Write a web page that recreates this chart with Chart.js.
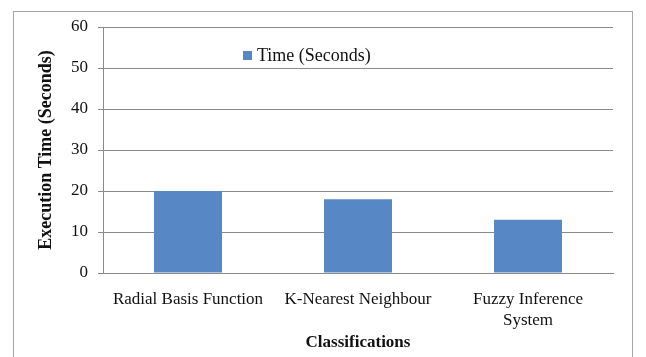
<!DOCTYPE html>
<html><head><meta charset="utf-8">
<script src="https://cdn.jsdelivr.net/npm/chart.js@4/dist/chart.umd.min.js"></script>
<style>
html,body{margin:0;padding:0;background:#fff;}
#wrap{position:relative;width:646px;height:357px;overflow:hidden;}
#frame{position:absolute;left:13px;top:11px;width:620px;height:400px;border:1px solid #a6a6a6;box-sizing:border-box;}
canvas{position:absolute;left:0;top:0;}
</style></head>
<body>
<div id="wrap"><div id="frame"></div><canvas id="c" width="646" height="357"></canvas></div>
<script>
const categories = [["Radial Basis Function"], ["K-Nearest Neighbour"], ["Fuzzy Inference", "System"]];
const seriesLabel = "Time (Seconds)";
const timeSeconds = [20, 18, 13];
const yTicks = [0, 10, 20, 30, 40, 50, 60];
const yTitle = "Execution Time (Seconds)";
const xTitle = "Classifications";

const barColor = "#5787c4";
const serif = "'Liberation Serif', 'Times New Roman', serif";

const insideLegend = {
  id: 'insideLegend',
  afterDraw(chart) {
    const ctx = chart.ctx, a = chart.chartArea;
    const ds = chart.data.datasets[0];
    const x = a.left + 140, y = a.top + 28;
    ctx.save();
    ctx.fillStyle = ds.backgroundColor;
    ctx.fillRect(x, y - 4, 9, 9);
    ctx.fillStyle = '#111';
    ctx.font = "18px " + serif;
    ctx.textBaseline = 'middle';
    ctx.textAlign = 'left';
    ctx.fillText(ds.label, x + 14, y + 1);
    ctx.restore();
  }
};

new Chart(document.getElementById('c'), {
  type: 'bar',
  data: {
    labels: categories,
    datasets: [{
      label: seriesLabel,
      data: timeSeconds,
      backgroundColor: barColor,
      borderWidth: 0,
      categoryPercentage: 0.4,
      barPercentage: 1.0
    }]
  },
  options: {
    responsive: false,
    animation: false,
    devicePixelRatio: 1,
    layout: { padding: { left: 36, right: 33, top: 27, bottom: 4 } },
    plugins: { legend: { display: false }, tooltip: { enabled: false } },
    scales: {
      x: {
        grid: { display: false, drawTicks: false },
        border: { display: true, color: '#8a8a8a', width: 1 },
        ticks: { color: '#111', font: { family: serif, size: 17, lineHeight: 1.22 }, padding: 16, maxRotation: 0, autoSkip: false },
        title: { display: true, text: xTitle, color: '#111', font: { family: serif, size: 17, weight: 'bold' }, padding: { top: 2, bottom: 0 } },
        afterFit(s) { s.height = 80; }
      },
      y: {
        min: 0, max: 60,
        afterBuildTicks(s) { s.ticks = yTicks.map(v => ({ value: v })); },
        grid: { color: '#8a8a8a', lineWidth: 1, tickLength: 5, drawTicks: true },
        border: { display: true, color: '#8a8a8a', width: 1 },
        ticks: { color: '#111', font: { family: serif, size: 17 }, padding: 10 },
        title: { display: true, text: yTitle, color: '#111', font: { family: serif, size: 18, weight: 'bold' }, padding: { top: 0, bottom: 10 } },
        afterFit(s) { s.width = 67; }
      }
    }
  },
  plugins: [insideLegend]
});
</script>
</body></html>
